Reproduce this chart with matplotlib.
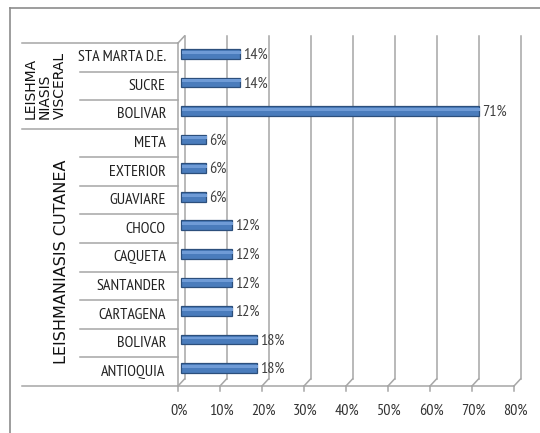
import numpy as np
import matplotlib.pyplot as plt
from matplotlib.transforms import ScaledTranslation
from matplotlib.lines import Line2D

# categories top to bottom as in the reference
categories = ["STA MARTA D.E.", "SUCRE", "BOLIVAR", "META", "EXTERIOR", "GUAVIARE",
              "CHOCO", "CAQUETA", "SANTANDER", "CARTAGENA", "BOLIVAR", "ANTIOQUIA"]
values = [0.14, 0.14, 0.71, 0.06, 0.06, 0.06, 0.12, 0.12, 0.12, 0.12, 0.18, 0.18]
labels = ["14%", "14%", "71%", "6%", "6%", "6%", "12%", "12%", "12%", "12%", "18%", "18%"]
groups = ["LEISHMA\nNIASIS\nVISCERAL", "LEISHMANIASIS CUTANEA"]
group_sizes = [3, 9]
ticks = [0, 0.1, 0.2, 0.3, 0.4, 0.5, 0.6, 0.7, 0.8]
tick_labels = ["0%", "10%", "20%", "30%", "40%", "50%", "60%", "70%", "80%"]

narrow = ['PT Sans Narrow', 'DejaVu Sans']
wide = ['DejaVu Sans']
W, H = 540, 433
fig = plt.figure(figsize=(W / 100, H / 100), dpi=100)
ax = fig.add_axes([178 / W, 1 - 386 / H, (514 - 178) / W, (386 - 43) / H])
ax.set_xlim(0, 0.8)
ax.set_ylim(-0.5, 11.5)
ax.axis('off')

def off(px, py):
  return ax.transData + ScaledTranslation(px / 100, py / 100, fig.dpi_scale_trans)

DX, DY = 6.5, 7
grid_c = '#a6a6a6'
n = len(categories)
ypos = np.arange(n)[::-1]
px = fig.dpi_scale_trans

# back wall gridlines
for t in ticks:
  ax.plot([t, t], [-0.5, 11.5], color=grid_c, lw=1.1, transform=off(DX, DY), clip_on=False)

# floor depth lines and ticks
for t in ticks:
  x0, y0 = ax.transData.transform((t, -0.5)) / 100
  fig.add_artist(Line2D([x0, x0 + DX / 100], [y0, y0 + DY / 100], color=grid_c, lw=1.1, transform=px))
  fig.add_artist(Line2D([x0, x0], [y0, y0 - 5 / 100], color=grid_c, lw=1.1, transform=px))

# left wall top corner
x0, y0 = ax.transData.transform((0, 11.5)) / 100
fig.add_artist(Line2D([x0, x0 + DX / 100], [y0, y0 + DY / 100], color=grid_c, lw=1.1, transform=px))

# front axis line and floor line
ax.plot([0, 0], [-0.5, 11.5], color=grid_c, lw=1.1, clip_on=False)
yt = ax.get_yaxis_transform()
left_grp = (22 - 178) / 336
left_cat = (80 - 178) / 336
ax.plot([left_grp, 1], [-0.5, -0.5], color=grid_c, lw=1.1, transform=yt, clip_on=False)
ax.plot([left_grp, 0], [11.5, 11.5], color=grid_c, lw=1.1, transform=yt, clip_on=False)

# table separators
bound = n - group_sizes[0] - 0.5
for k in range(1, n):
  b = k - 0.5
  xs = left_grp if b == bound else left_cat
  ax.plot([xs, 0], [b, b], color=grid_c, lw=1.1, transform=yt, clip_on=False)

# bars with a simple cylinder look
h = 0.34
ax.barh(ypos, values, height=h, color='#4a7cbc', edgecolor='#2c4f7c', lw=0.9,
        transform=off(DX / 2, DY / 2), zorder=3)
ax.barh(ypos + h * 0.17, values, height=h * 0.3, color='#6f9bd6', lw=0,
        transform=off(DX / 2 + 1, DY / 2), zorder=4)

for y, v, lab in zip(ypos, values, labels):
  ax.text(v, y, lab, transform=off(DX / 2 + 3, DY / 2 - 1), ha='left', va='center',
          fontsize=11.5, family=narrow, color='#404040', zorder=5)

for y, c in zip(ypos, categories):
  ax.text(-0.036, y, c, transform=yt, ha='right', va='center', fontsize=11.5,
          family=narrow, color='#222222')

for t, lab in zip(ticks, tick_labels):
  ax.text(t, -0.5, lab, transform=off(1, -25), ha='center', va='center', fontsize=11.5,
          family=narrow, color='#333333')

# group labels
ax.text((45 - 178) / 336, n - 1 - (group_sizes[0] - 1) / 2, groups[0], transform=yt,
        rotation=90, ha='center', va='center', multialignment='left', fontsize=10,
        family=wide, color='#111111', linespacing=1.05)
ax.text((62 - 178) / 336, (group_sizes[1] - 1) / 2 - 0.15, groups[1], transform=yt, rotation=90,
        ha='center', va='center', fontsize=11.5, family=wide, color='#111111')

# outer frame
fig.add_artist(Line2D([10 / W, 1], [1 - 8 / H, 1 - 8 / H], color='#8c8c8c', lw=1.2))
fig.add_artist(Line2D([10 / W, 10 / W], [0, 1 - 8 / H], color='#8c8c8c', lw=1.2))

fig.savefig('out.png', dpi=100)
